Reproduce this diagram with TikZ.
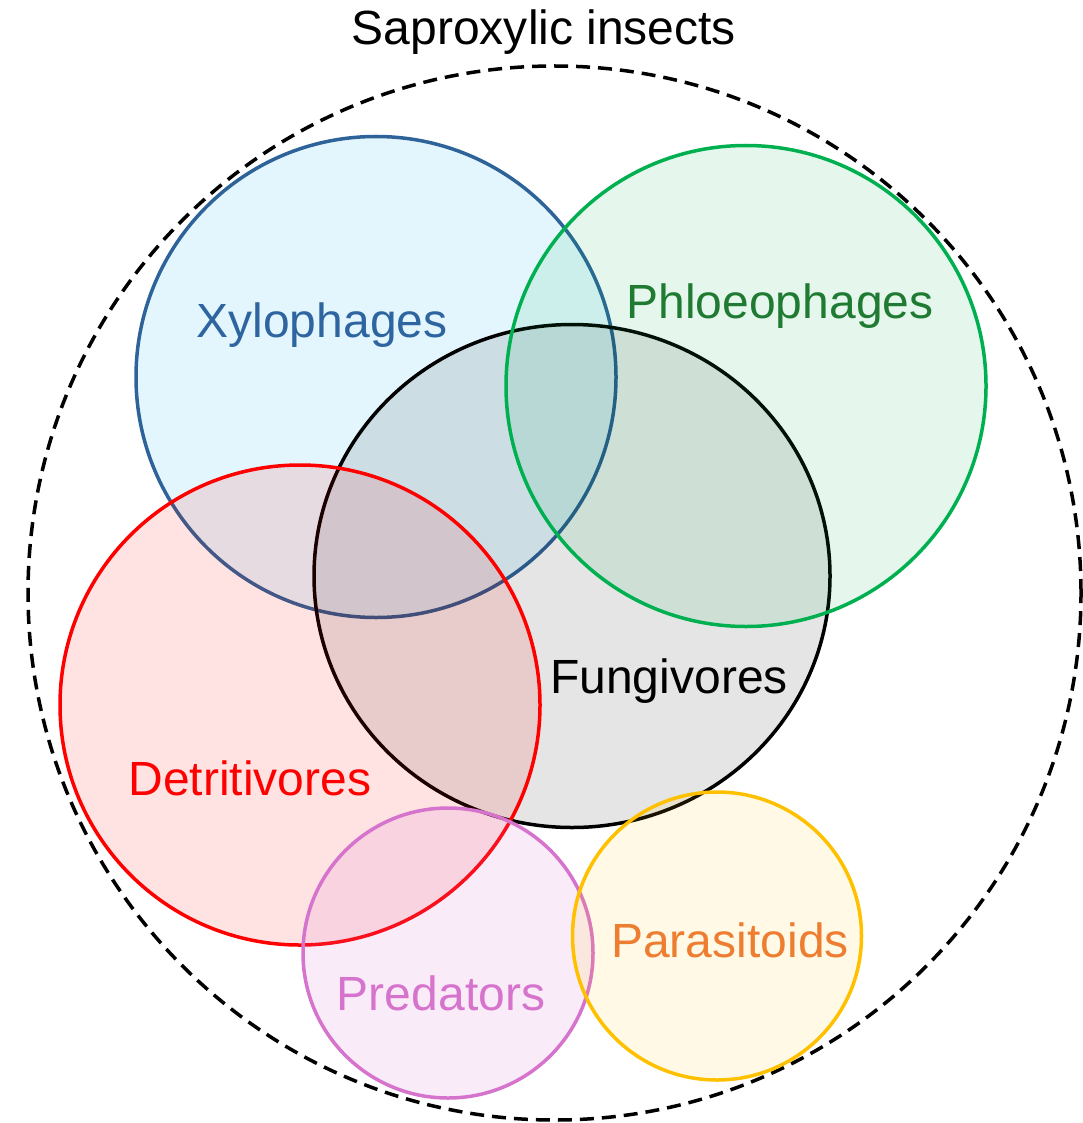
\documentclass[tikz,border=0pt]{standalone}
\usepackage{xcolor}
\usepackage{fontspec}
\setmainfont{Liberation Sans}
\usepackage{tikz}
\usetikzlibrary{shapes.geometric,positioning}

\definecolor{xyloline}{HTML}{2E6399}
\definecolor{xylotext}{HTML}{2E64A0}
\definecolor{phloline}{HTML}{00B050}
\definecolor{phlotext}{HTML}{1F7A32}
\definecolor{detriline}{HTML}{FF0000}
\definecolor{predline}{HTML}{D673CC}
\definecolor{paraline}{HTML}{FFC000}
\definecolor{paratext}{HTML}{ED7D31}
\definecolor{xylofill}{HTML}{00B0F0}

\begin{document}
\begin{tikzpicture}[x=1pt, y=-1pt,
  font=\fontsize{48}{58}\selectfont,
  group/.style={ellipse, draw, line width=3.5pt, inner sep=0pt},
  xylo/.style={group, draw=xyloline, fill=xylofill, fill opacity=0.11, minimum width=480, minimum height=481},
  phlo/.style={group, draw=phloline, fill=phloline, fill opacity=0.10, minimum width=480, minimum height=481},
  fungi/.style={group, draw=black, fill=black, fill opacity=0.10, minimum width=516, minimum height=503},
  detri/.style={group, draw=detriline, fill=detriline, fill opacity=0.11, minimum width=480, minimum height=480},
  pred/.style={group, draw=predline, fill=predline, fill opacity=0.14, minimum width=290, minimum height=290},
  para/.style={group, draw=paraline, fill=paraline, fill opacity=0.10, minimum width=289, minimum height=288},
  grouptext/.style={anchor=base, inner sep=0pt}]

  \useasboundingbox (0,0) rectangle (1082,1123);

  % outer set
  \node (saprox) [ellipse, draw, dashed, dash pattern=on 14pt off 8pt, line width=3.5pt,
    minimum width=1053, minimum height=1054, inner sep=0pt] at (554.5,593) {};
  \node (title) [grouptext] at (544,45) {Saproxylic insects};

  % feeding groups
  \node (xylo) [xylo] at (376,377) {};
  \node (fungi) [fungi] at (572,576) {};
  \node (phlo) [phlo] at (746,386) {};
  \node (detri) [detri] at (300,705) {};
  \node (pred) [pred] at (448,953) {};
  \node (para) [para] at (717,936) {};

  % names
  \node (xylotxt) [grouptext, text=xylotext] at (322,337) {Xylophages};
  \node (phlotxt) [grouptext, text=phlotext] at (780,318) {Phloeophages};
  \node (fungitxt) [grouptext] at (669,693) {Fungivores};
  \node (detritxt) [grouptext, text=detriline] at (250,795) {Detritivores};
  \node (predtxt) [grouptext, text=predline] at (441,1010) {Predators};
  \node (paratxt) [grouptext, text=paratext] at (730,957) {Parasitoids};
\end{tikzpicture}
\end{document}
